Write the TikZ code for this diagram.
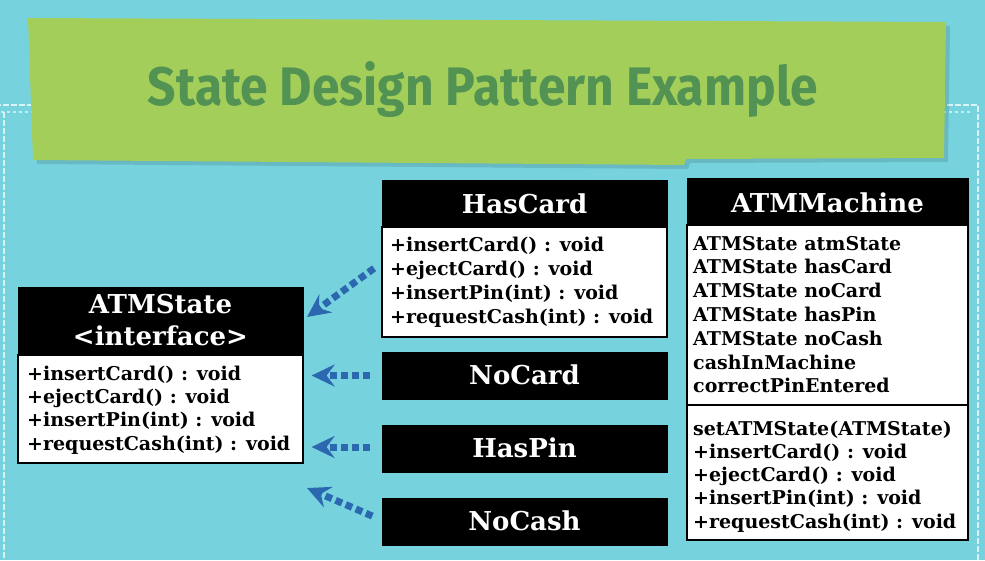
\documentclass[tikz,border=0pt]{standalone}
\usepackage{fontspec}
\usepackage{graphicx}
\setmainfont{DejaVu Serif}
\newfontfamily\titlefont{Fira Sans}
\usetikzlibrary{arrows.meta}
\definecolor{bgc}{RGB}{118,211,222}
\definecolor{bannerc}{RGB}{164,206,90}
\definecolor{titlec}{RGB}{82,146,82}
\definecolor{arrc}{RGB}{44,104,176}
\begin{document}
\begin{tikzpicture}[x=1pt,y=-1pt,
  hdr/.style={draw=black, fill=black, line width=1pt, inner sep=0pt},
  bodybox/.style={draw=black, fill=white, line width=1.2pt, inner sep=0pt},
  htext/.style={text=white, font=\fontsize{26}{30}\selectfont\bfseries, inner sep=0pt, anchor=base},
  btext/.style={text=black, font=\fontsize{19}{22}\selectfont\bfseries, inner sep=0pt, anchor=base west},
  border/.style={draw=white, opacity=0.75, line width=2pt, dash pattern=on 6pt off 2pt},
  border2/.style={draw=white, opacity=0.6, line width=2pt, dash pattern=on 3pt off 3pt},
  dep/.style={draw=arrc, line width=7pt, dash pattern=on 7pt off 4pt, -{Stealth[length=23pt,width=22pt,inset=8pt]}}
]
\fill[bgc] (0,0) rectangle (985,560);
\useasboundingbox (0,0) rectangle (985,560);
% decorative border
\draw[border] (-5,105) -- (978,105) -- (978,570);
\draw[border] (4,112) -- (4,570);
\draw[border2] (-5,112) -- (970,112);
% banner
\fill[black, opacity=0.12] (32,22) -- (950,26) -- (948,162) -- (690,163) -- (688,169) -- (37,164) -- cycle;
\fill[bannerc] (28,18) -- (946,22) -- (944,158) -- (686,159) -- (684,165) -- (33,160) -- cycle;
\node[text=titlec, inner sep=0pt] (title) at (483,90) {\resizebox*{670pt}{56pt}{\titlefont\bfseries State Design Pattern Example}};
% ATMState
\node[bodybox, minimum width=285, minimum height=108] (asB) at (160.5,409) {};
\node[hdr, minimum width=285, minimum height=68] (asH) at (160.5,321) {};
\node[htext] (asT1) at (160.5,313) {ATMState};
\node[htext] (asT2) at (160.5,345) {<interface>};
\foreach \t [count=\i] in {{+insertCard() : void},{+ejectCard() : void},{+insertPin(int) : void},{+requestCash(int) : void}}
  \node[btext] (as\i) at (27,{380+(\i-1)*23.4}) {\t};
% HasCard
\node[bodybox, minimum width=285, minimum height=110] (hcB) at (524.5,282) {};
\node[hdr, minimum width=285, minimum height=47] (hcH) at (524.5,203.5) {};
\node[htext] (hcT) at (524.5,213) {HasCard};
\foreach \t [count=\i] in {{+insertCard() : void},{+ejectCard() : void},{+insertPin(int) : void},{+requestCash(int) : void}}
  \node[btext] (hc\i) at (390,{251+(\i-1)*24}) {\t};
% NoCard, HasPin, NoCash
\node[hdr, minimum width=285, minimum height=47] (ncH) at (524.5,375.5) {};
\node[htext] (ncT) at (524.5,384) {NoCard};
\node[hdr, minimum width=285, minimum height=47] (hpH) at (524.5,448.5) {};
\node[htext] (hpT) at (524.5,457) {HasPin};
\node[hdr, minimum width=285, minimum height=47] (nsH) at (524.5,521.5) {};
\node[htext] (nsT) at (524.5,530) {NoCash};
% ATMMachine
\node[bodybox, minimum width=281, minimum height=180] (amB1) at (827.5,315) {};
\node[bodybox, minimum width=281, minimum height=135] (amB2) at (827.5,472.5) {};
\node[hdr, minimum width=281, minimum height=47] (amH) at (827.5,201.5) {};
\node[htext] (amT) at (827.5,212) {ATMMachine};
\foreach \t [count=\i] in {{ATMState atmState},{ATMState hasCard},{ATMState noCard},{ATMState hasPin},{ATMState noCash},{cashInMachine},{correctPinEntered}}
  \node[btext] (am\i) at (693,{250+(\i-1)*23.8}) {\t};
\foreach \t [count=\i] in {{setATMState(ATMState)},{+insertCard() : void},{+ejectCard() : void},{+insertPin(int) : void},{+requestCash(int) : void}}
  \node[btext] (amm\i) at (693,{435+(\i-1)*23.3}) {\t};
% dependency arrows
\coordinate (in1) at (307,317);
\coordinate (in4) at (307,488);
\draw[dep, shorten <=9pt] ([yshift=19pt]hcB.west) -- (in1);
\draw[dep, shorten <=12pt, shorten >=8pt] (ncH.west) -- (ncH.west -| asB.east);
\draw[dep, shorten <=12pt, shorten >=8pt] ([yshift=1.5pt]hpH.west) -- ([yshift=1.5pt]hpH.west -| asB.east);
\draw[dep, shorten <=10pt] ([yshift=1.5pt]nsH.west) -- (in4);
\end{tikzpicture}
\end{document}
